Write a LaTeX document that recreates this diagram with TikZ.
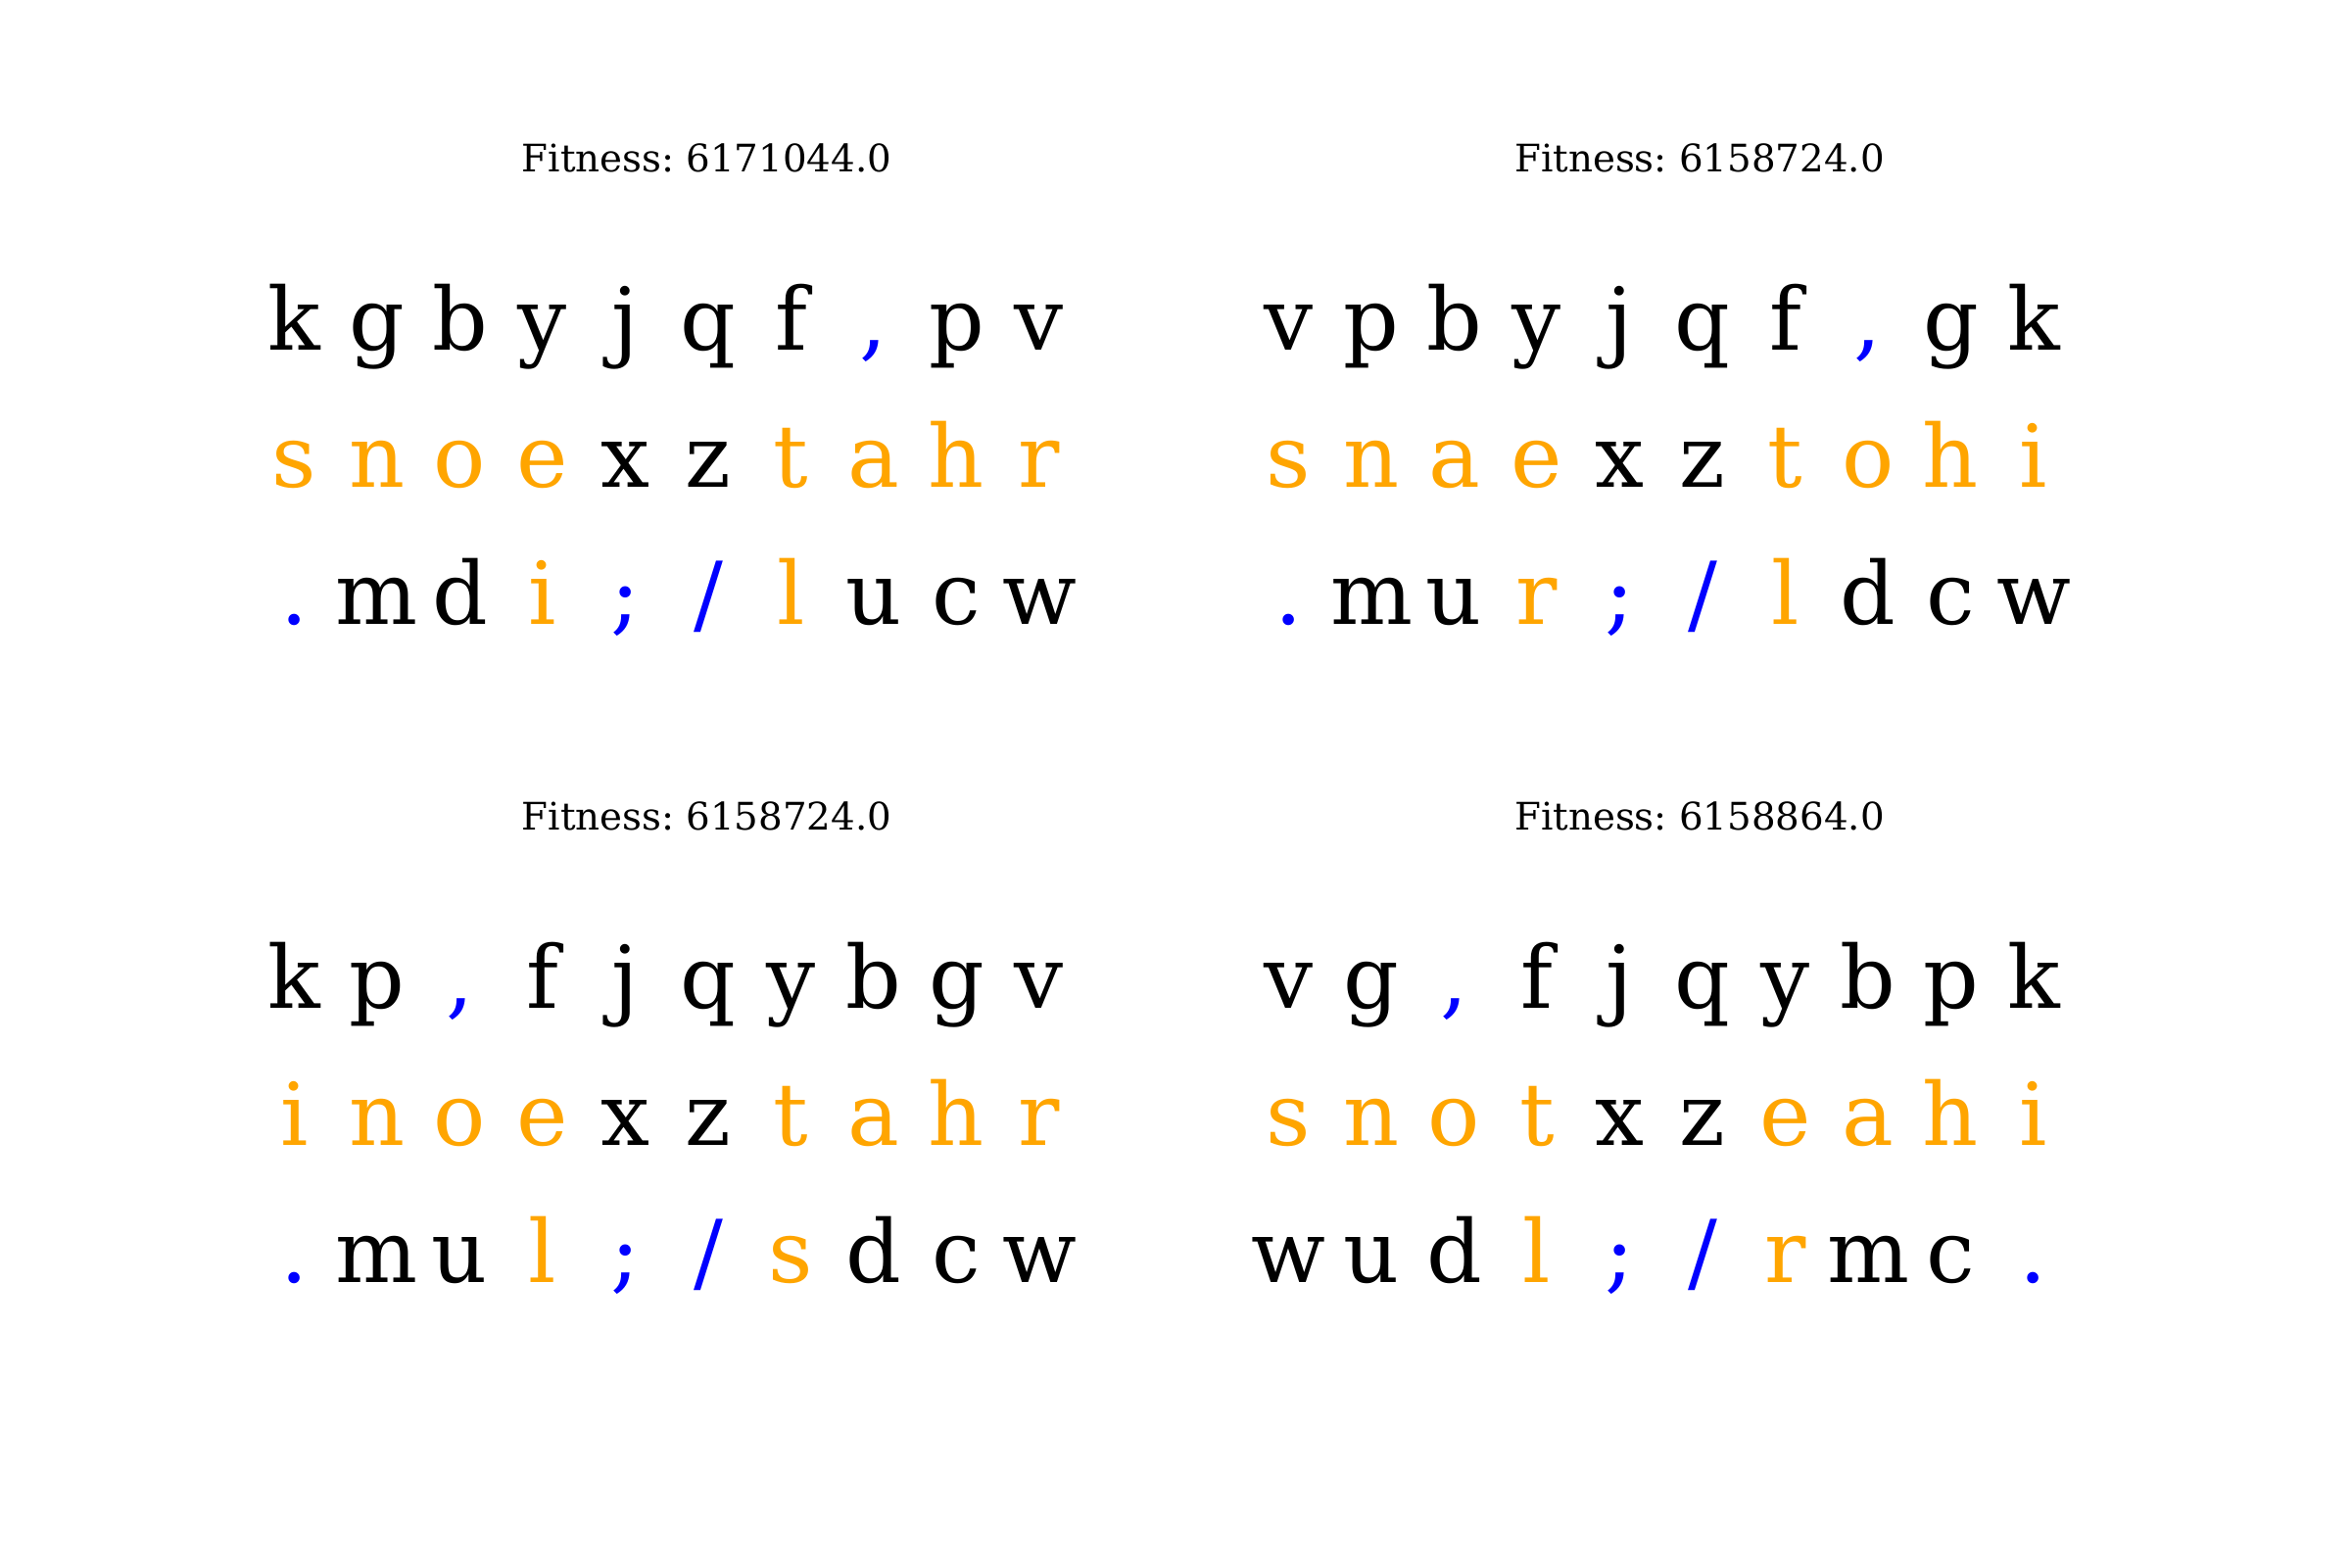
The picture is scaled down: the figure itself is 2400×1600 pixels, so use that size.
\documentclass[tikz,border=0pt]{standalone}
\usepackage{fontspec}
\setmainfont{DejaVu Serif}
\frenchspacing
\definecolor{kc}{HTML}{000000}
\definecolor{oc}{HTML}{FFA500}
\definecolor{bc}{HTML}{0000FF}
\tikzset{
  keych/.style={inner sep=0pt, outer sep=0pt, anchor=base, font=\fontsize{64}{70}\selectfont},
  titletext/.style={inner sep=0pt, outer sep=0pt, anchor=base, text=black, font=\fontsize{28}{32}\selectfont},
}
% #1 name prefix, #2 x of first column, #3 baseline y, #4 list
\newcommand{\keyrow}[4]{%
  \foreach \ch/\cl [count=\i from 0] in {#4} {
    \node[keych, text=\cl] (#1\i) at ({#2+84.5*\i},#3) {\ch};
  }%
}
\begin{document}
\begin{tikzpicture}[x=0.01in, y=-0.01in]
\useasboundingbox[fill=white] (0,0) rectangle (2400,1600);

% ---- top left
\node[titletext] (tlT) at (721.5,175) {Fitness: 6171044.0};
\keyrow{tlA}{300.5}{357}{k/kc,g/kc,b/kc,y/kc,j/kc,q/kc,f/kc,{,}/bc,p/kc,v/kc}
\keyrow{tlB}{300.5}{497}{s/oc,n/oc,o/oc,e/oc,x/kc,z/kc,t/oc,a/oc,h/oc,r/oc}
\keyrow{tlC}{300.5}{637}{./bc,m/kc,d/kc,i/oc,;/bc,{/}/bc,l/oc,u/kc,c/kc,w/kc}

% ---- top right
\node[titletext] (trT) at (1735,175) {Fitness: 6158724.0};
\keyrow{trA}{1315.5}{357}{v/kc,p/kc,b/kc,y/kc,j/kc,q/kc,f/kc,{,}/bc,g/kc,k/kc}
\keyrow{trB}{1315.5}{497}{s/oc,n/oc,a/oc,e/oc,x/kc,z/kc,t/oc,o/oc,h/oc,i/oc}
\keyrow{trC}{1315.5}{637}{./bc,m/kc,u/kc,r/oc,;/bc,{/}/bc,l/oc,d/kc,c/kc,w/kc}

% ---- bottom left
\node[titletext] (blT) at (721.5,847) {Fitness: 6158724.0};
\keyrow{blA}{300.5}{1029}{k/kc,p/kc,{,}/bc,f/kc,j/kc,q/kc,y/kc,b/kc,g/kc,v/kc}
\keyrow{blB}{300.5}{1169}{i/oc,n/oc,o/oc,e/oc,x/kc,z/kc,t/oc,a/oc,h/oc,r/oc}
\keyrow{blC}{300.5}{1309}{./bc,m/kc,u/kc,l/oc,;/bc,{/}/bc,s/oc,d/kc,c/kc,w/kc}

% ---- bottom right
\node[titletext] (brT) at (1735,847) {Fitness: 6158864.0};
\keyrow{brA}{1315.5}{1029}{v/kc,g/kc,{,}/bc,f/kc,j/kc,q/kc,y/kc,b/kc,p/kc,k/kc}
\keyrow{brB}{1315.5}{1169}{s/oc,n/oc,o/oc,t/oc,x/kc,z/kc,e/oc,a/oc,h/oc,i/oc}
\keyrow{brC}{1315.5}{1309}{w/kc,u/kc,d/kc,l/oc,;/bc,{/}/bc,r/oc,m/kc,c/kc,./bc}
\end{tikzpicture}
\end{document}
